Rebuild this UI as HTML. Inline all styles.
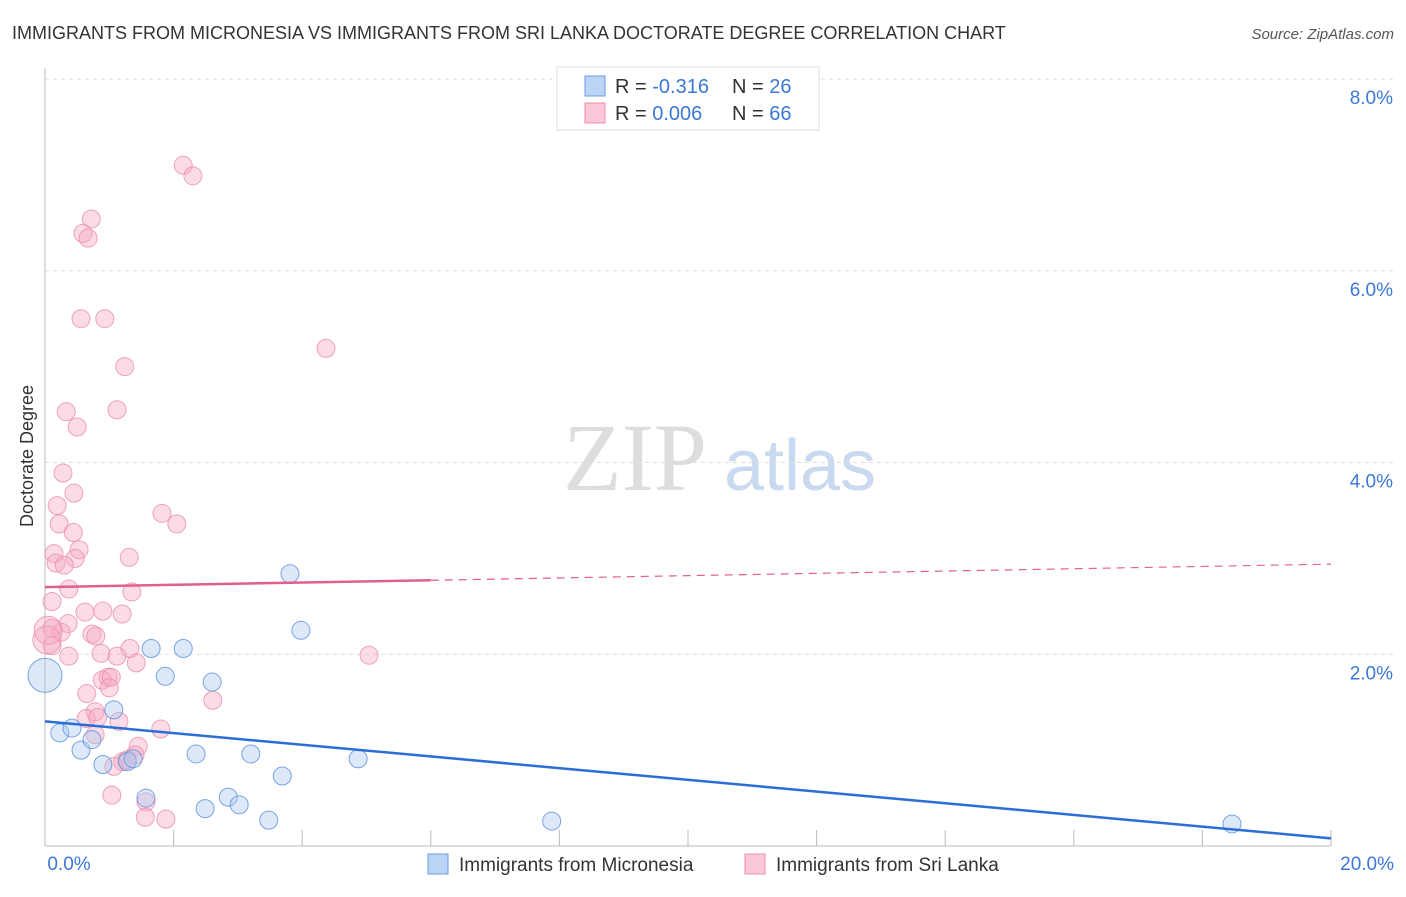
<!DOCTYPE html>
<html><head><meta charset="utf-8"><style>
body{margin:0;background:#fff;font-family:"Liberation Sans",sans-serif}
</style></head><body>
<svg width="1406" height="892" xmlns="http://www.w3.org/2000/svg" font-family="Liberation Sans, sans-serif">
<text x="12" y="39" font-size="18" fill="#333">IMMIGRANTS FROM MICRONESIA VS IMMIGRANTS FROM SRI LANKA DOCTORATE DEGREE CORRELATION CHART</text>
<text x="1394" y="39" font-size="15" fill="#555" font-style="italic" text-anchor="end">Source: ZipAtlas.com</text>
<g>
<text x="635" y="490" font-size="96" font-family="Liberation Serif, serif" fill="#ddd" text-anchor="middle">ZIP</text>
<text x="800" y="490" font-size="72" fill="#c9daf0" text-anchor="middle">atlas</text>
</g>
<g id="grid"></g>
<g id="axes"></g>
<g id="marks"></g>
<text x="33" y="456" font-size="18" fill="#333" text-anchor="middle" transform="rotate(-90 33 456)">Doctorate Degree</text>
<g>
<rect x="557" y="67" width="262" height="63" fill="#fff" stroke="#ddd"/>
<rect x="585" y="76" width="20" height="20" fill="#bcd4f5" stroke="#6b9be0"/>
<rect x="585" y="103" width="20" height="20" fill="#fbc8d8" stroke="#eb8cab"/>
<text x="615" y="93" font-size="20" fill="#333">R = <tspan fill="#3b78d8">-0.316</tspan><tspan x="732">N = </tspan><tspan fill="#3b78d8">26</tspan></text>
<text x="615" y="120" font-size="20" fill="#333">R = <tspan fill="#3b78d8"> 0.006</tspan><tspan x="732">N = </tspan><tspan fill="#3b78d8">66</tspan></text>
</g>
<g>
<rect x="428" y="854" width="20" height="20" fill="#bcd4f5" stroke="#6b9be0"/>
<text x="459" y="871" font-size="19" fill="#333">Immigrants from Micronesia</text>
<rect x="745" y="854" width="20" height="20" fill="#fbc8d8" stroke="#eb8cab"/>
<text x="776" y="871" font-size="19" fill="#333">Immigrants from Sri Lanka</text>
</g>
</svg>
<script>
const yTicks=[2,4,6,8];
const yTickLabels=["2.0%","4.0%","6.0%","8.0%"];
const xTickLabels=["0.0%","20.0%"];
const blueX=[0.0,0.23,0.42,0.56,0.73,0.90,1.07,1.28,1.37,1.57,1.65,1.87,2.15,2.35,2.49,2.60,2.85,3.02,3.20,3.48,3.69,3.81,3.98,4.87,7.88,18.46];
const blueY=[1.78,1.18,1.23,1.00,1.11,0.85,1.42,0.88,0.91,0.50,2.06,1.77,2.06,0.96,0.39,1.71,0.51,0.43,0.96,0.27,0.73,2.84,2.25,0.91,0.26,0.23];
const pinkX=[2.15,2.30,0.72,0.59,0.67,0.56,0.93,4.37,1.24,0.33,1.12,0.50,0.28,0.45,0.19,1.82,2.05,0.22,0.44,0.53,0.14,0.47,1.31,0.17,0.30,0.37,1.35,0.11,0.62,0.90,1.20,0.36,0.11,0.25,0.73,0.79,0.11,1.32,0.87,1.12,0.37,5.04,1.42,0.89,0.98,1.03,1.00,0.65,2.61,0.78,0.64,0.82,1.15,1.80,0.78,1.45,1.40,1.21,1.07,1.28,1.04,1.57,1.56,1.88,0.03,0.05];
const pinkY=[7.10,6.99,6.54,6.39,6.34,5.50,5.50,5.19,5.00,4.53,4.55,4.37,3.89,3.68,3.55,3.47,3.36,3.36,3.27,3.09,3.05,3.00,3.01,2.95,2.93,2.68,2.65,2.55,2.44,2.45,2.42,2.32,2.27,2.23,2.21,2.19,2.09,2.06,2.01,1.98,1.98,1.99,1.91,1.73,1.76,1.76,1.65,1.59,1.52,1.40,1.33,1.34,1.30,1.22,1.16,1.04,0.95,0.88,0.83,0.90,0.53,0.46,0.30,0.28,2.15,2.25];
const blueTrend=[1.30,0.08];
const pinkTrend=[2.70,2.94];
const NS="http://www.w3.org/2000/svg";
const X0=45,X1=1331,Y0=846,Y8=79;
const sx=v=>X0+(v/20)*(X1-X0);
const sy=v=>Y0-(v/8)*(Y0-Y8);
function mk(p,t,a){const e=document.createElementNS(NS,t);for(const k in a)e.setAttribute(k,a[k]);p.appendChild(e);return e;}
const grid=document.getElementById('grid'),axes=document.getElementById('axes'),marks=document.getElementById('marks');
yTicks.forEach((t,i)=>{
 const l=mk(grid,'line',{x1:X0,x2:1394,y1:sy(t),y2:sy(t),stroke:'#ddd','stroke-dasharray':'4 4'});
 
 
 const tx=mk(axes,'text',{x:1393,y:sy(t)+25,'font-size':19,fill:'#3b78d8','text-anchor':'end'});
 tx.textContent=yTickLabels[i];
 
 
});
mk(axes,'line',{x1:X0,x2:X0,y1:68,y2:Y0,stroke:'#bbb'});
mk(axes,'line',{x1:X0,x2:X1,y1:Y0,y2:Y0,stroke:'#bbb'});
for(let i=1;i<=10;i++){const x=sx(i*2);const l=mk(axes,'line',{x1:x,x2:x,y1:830,y2:Y0,stroke:'#bbb'});
 
 }
[[X0+24,'middle'],[1394,'end']].forEach((p,i)=>{const t=mk(axes,'text',{x:p[0],y:870,'font-size':19,fill:'#3b78d8','text-anchor':p[1]});t.textContent=xTickLabels[i];
 
 });
function dots(xs,ys,fill,stroke,name){xs.forEach((v,i)=>{const r=(i===0&&name==='micronesia-point')?17:((i>=64&&name==='srilanka-point')?14:9);
 const c=mk(marks,'circle',{cx:sx(v),cy:sy(ys[i]),r:r,fill:fill,'fill-opacity':0.4,stroke:stroke,'stroke-opacity':0.8,'stroke-width':1});
 
 });}
dots(pinkX,pinkY,'#f6a8c0','#eb8cab','srilanka-point');
dots(blueX,blueY,'#a9c8f0','#5b8fdc','micronesia-point');
const pm=pinkTrend[0]+(pinkTrend[1]-pinkTrend[0])*0.3;
let l=mk(marks,'line',{x1:sx(0),y1:sy(pinkTrend[0]),x2:sx(6),y2:sy(pm),stroke:'#e0608a','stroke-width':2.5});


l=mk(marks,'line',{x1:sx(6),y1:sy(pm),x2:sx(20),y2:sy(pinkTrend[1]),stroke:'#e0608a','stroke-width':1.2,'stroke-dasharray':'8 6'});


l=mk(marks,'line',{x1:sx(0),y1:sy(blueTrend[0]),x2:sx(20),y2:sy(blueTrend[1]),stroke:'#2a6fd6','stroke-width':2.5});


</script>
</body></html>
